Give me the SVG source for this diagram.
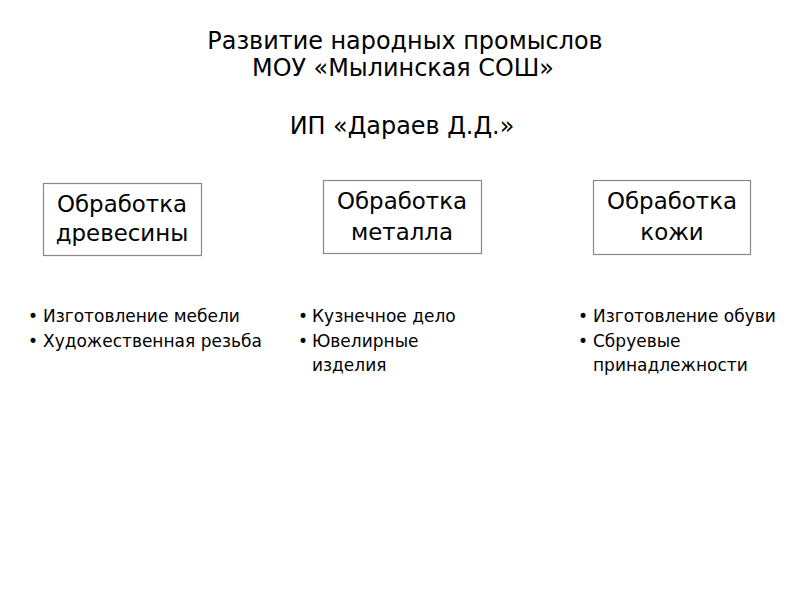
<svg xmlns="http://www.w3.org/2000/svg" width="800" height="600" viewBox="0 0 800 600">
<style>
text{font-family:"DejaVu Sans","Liberation Sans",sans-serif;fill:#000}
.t{font-size:23.9px;text-anchor:middle}
.b{font-size:22.9px;text-anchor:middle}
.l{font-size:17px}
.box{fill:#fff;stroke:#888;stroke-width:1.2}
</style>
<rect width="800" height="600" fill="#fff"/>
<g id="title">
<text class="t" x="405" y="49">Развитие народных промыслов</text>
<text class="t" x="403" y="76">МОУ «Мылинская СОШ»</text>
<text class="t" x="402" y="134">ИП «Дараев Д.Д.»</text>
</g>
<g id="node1">
<rect class="box" x="43.5" y="183.5" width="158" height="72"/>
<text class="b" x="122" y="212">Обработка</text>
<text class="b" x="122" y="241">древесины</text>
</g>
<g id="node2">
<rect class="box" x="323.5" y="180.5" width="158" height="73"/>
<text class="b" x="402" y="209">Обработка</text>
<text class="b" x="402" y="240">металла</text>
</g>
<g id="node3">
<rect class="box" x="593.5" y="180.5" width="157" height="74"/>
<text class="b" x="672" y="209">Обработка</text>
<text class="b" x="672" y="240">кожи</text>
</g>
<g id="list1">
<text class="l" x="28" y="322">•</text><text class="l" x="43" y="322">Изготовление мебели</text>
<text class="l" x="28" y="347">•</text><text class="l" x="43" y="347">Художественная резьба</text>
</g>
<g id="list2">
<text class="l" x="298" y="322">•</text><text class="l" x="312" y="322">Кузнечное дело</text>
<text class="l" x="298" y="347">•</text><text class="l" x="312" y="347">Ювелирные</text>
<text class="l" x="312" y="371">изделия</text>
</g>
<g id="list3">
<text class="l" x="578" y="322">•</text><text class="l" x="593" y="322">Изготовление обуви</text>
<text class="l" x="578" y="347">•</text><text class="l" x="593" y="347">Сбруевые</text>
<text class="l" x="593" y="371">принадлежности</text>
</g>
<g id="connectors"></g>
</svg>
